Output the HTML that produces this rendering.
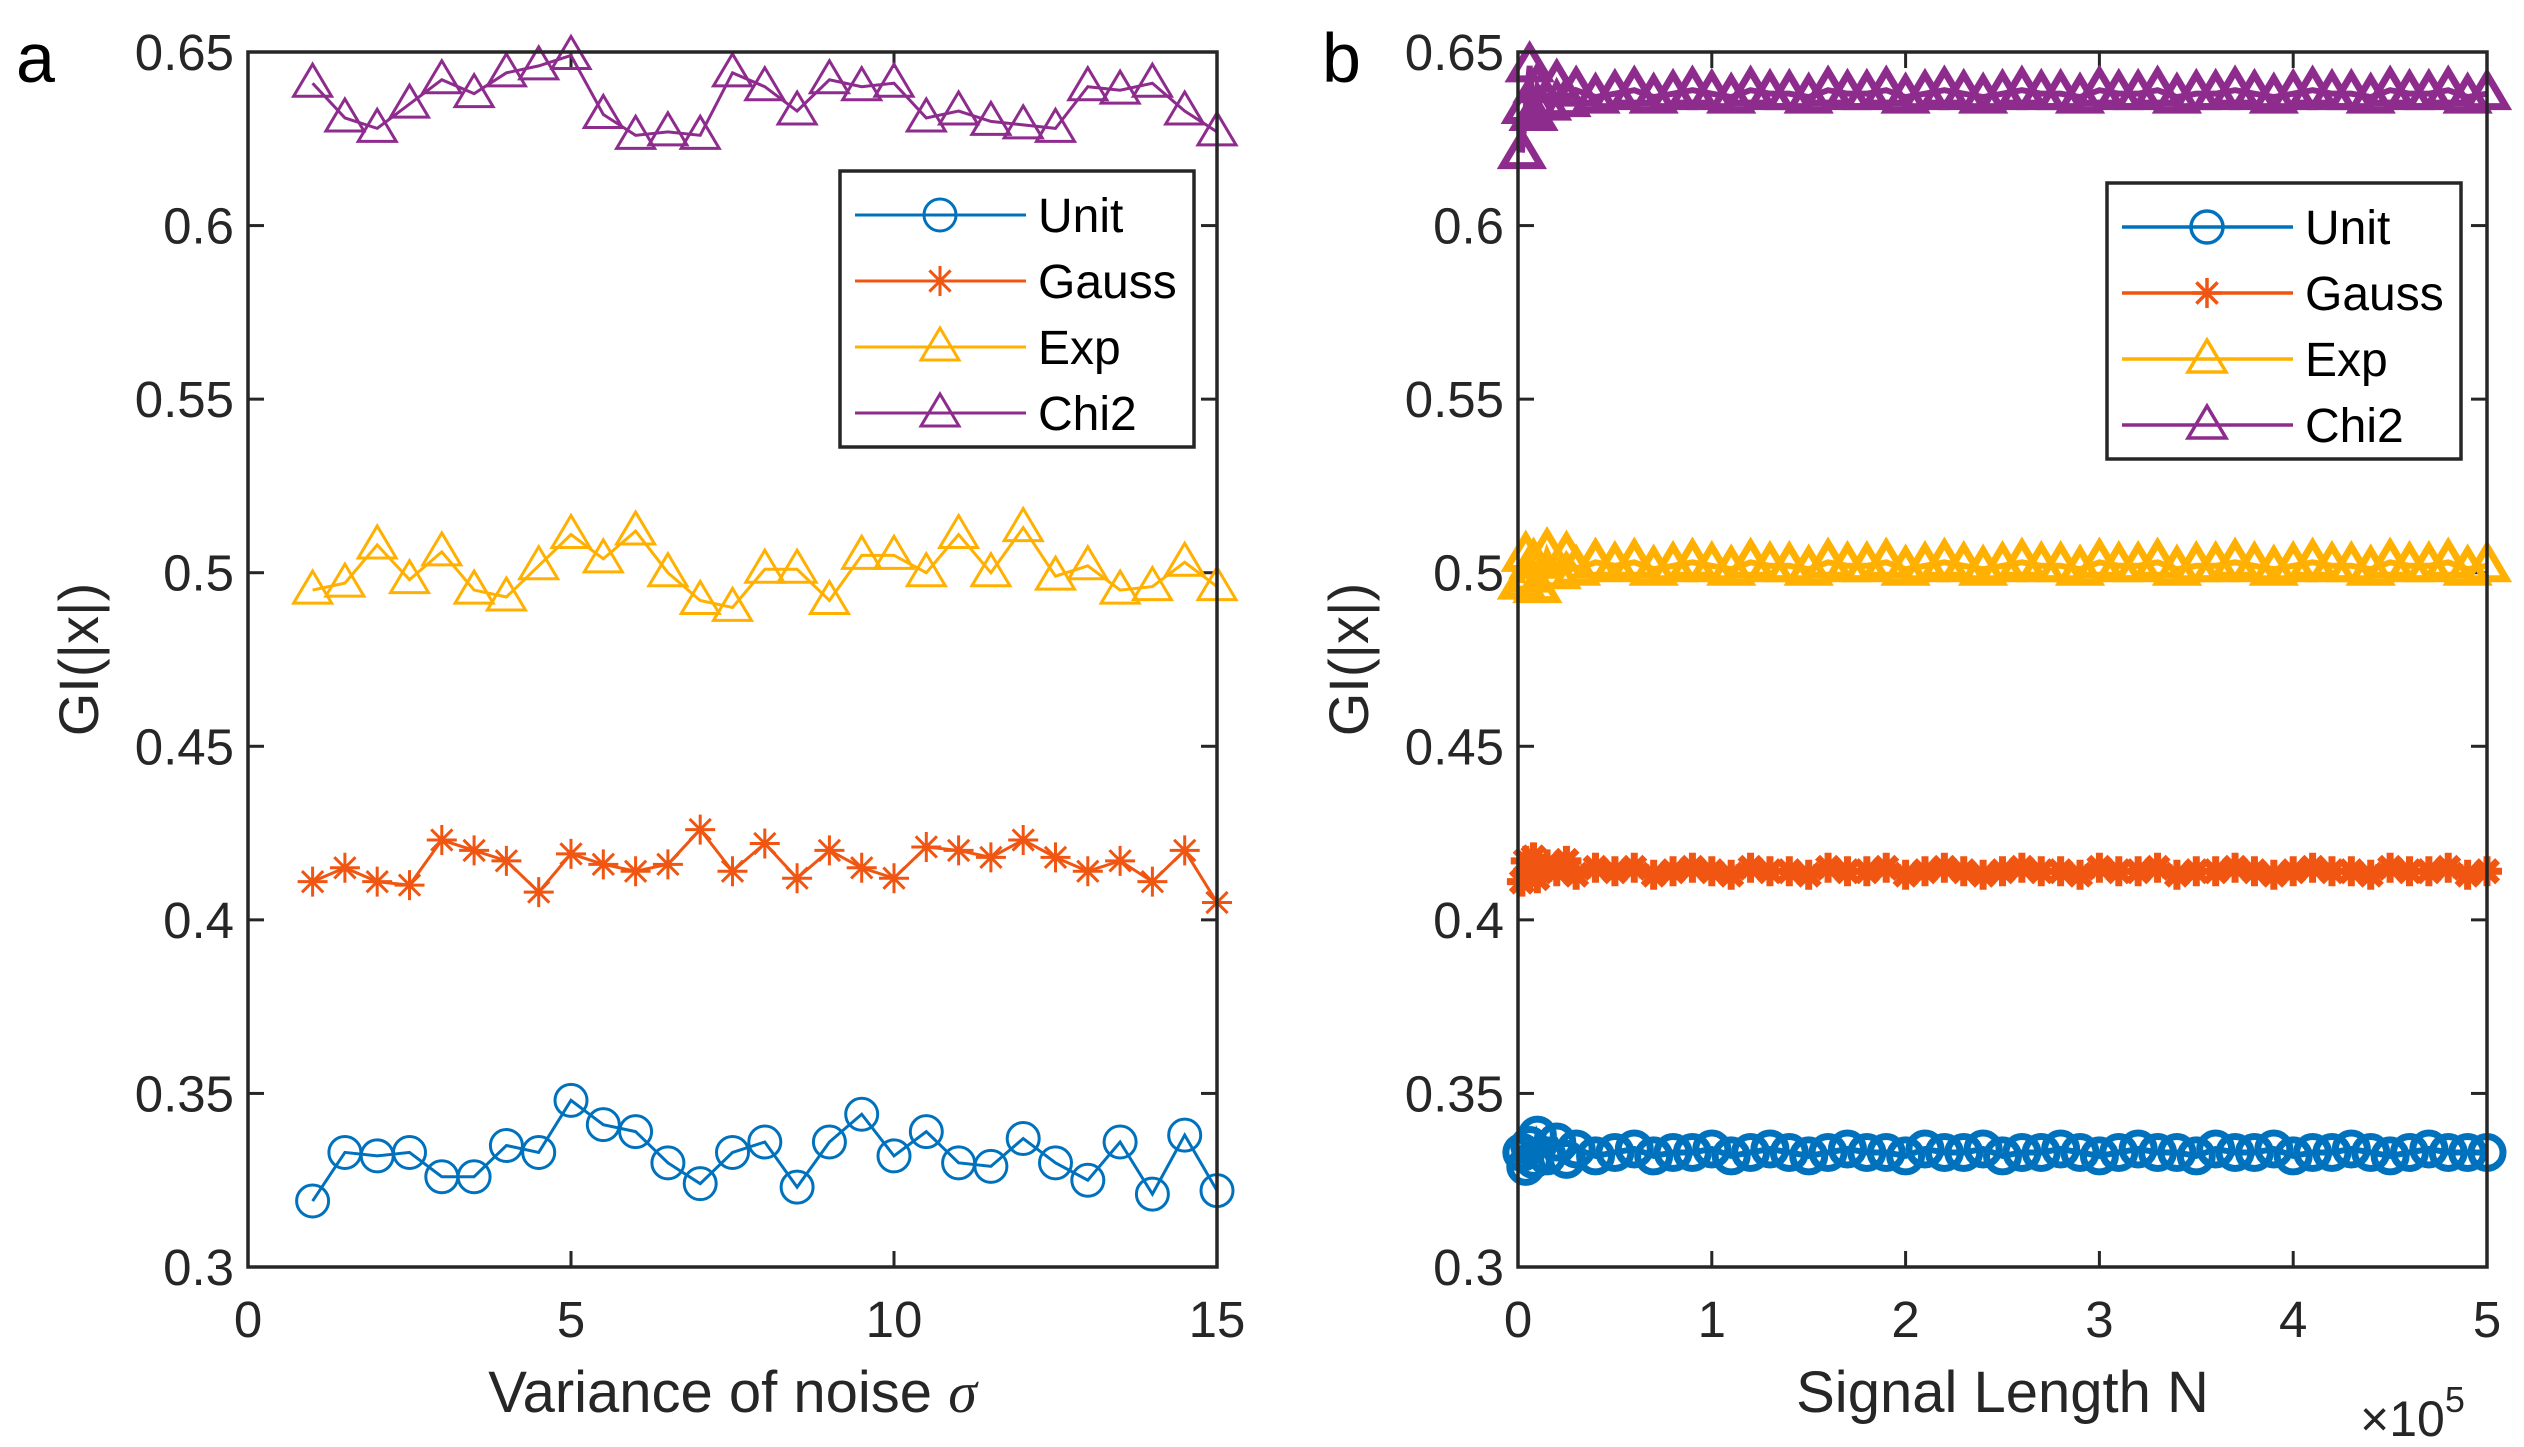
<!DOCTYPE html>
<html><head><meta charset="utf-8">
<style>
html,body{margin:0;padding:0;background:#fff;}
svg{display:block;font-family:"Liberation Sans",Arial,sans-serif;}
</style></head>
<body>
<svg id="fig" width="2524" height="1447" viewBox="0 0 2524 1447" xmlns="http://www.w3.org/2000/svg">
<rect width="2524" height="1447" fill="#fff"/>
</svg>
<script>
// ---- Panel a data ----
const sigmaX = [1,1.5,2,2.5,3,3.5,4,4.5,5,5.5,6,6.5,7,7.5,8,8.5,9,9.5,10,10.5,11,11.5,12,12.5,13,13.5,14,14.5,15];
const aUnit = [0.319,0.333,0.332,0.333,0.326,0.326,0.335,0.333,0.348,0.341,0.339,0.330,0.324,0.333,0.336,0.323,0.336,0.344,0.332,0.339,0.330,0.329,0.337,0.330,0.325,0.336,0.321,0.338,0.322];
const aGauss = [0.411,0.415,0.411,0.410,0.423,0.420,0.417,0.408,0.419,0.416,0.414,0.416,0.426,0.414,0.422,0.412,0.420,0.415,0.412,0.421,0.420,0.418,0.423,0.418,0.414,0.417,0.411,0.420,0.405];
const aExp = [0.495,0.497,0.508,0.498,0.506,0.495,0.493,0.502,0.511,0.504,0.512,0.500,0.492,0.490,0.501,0.501,0.492,0.505,0.505,0.500,0.511,0.500,0.513,0.499,0.502,0.495,0.496,0.503,0.496];
const aChi2 = [0.641,0.631,0.628,0.635,0.642,0.638,0.644,0.646,0.649,0.632,0.626,0.627,0.626,0.644,0.640,0.633,0.642,0.640,0.641,0.631,0.633,0.630,0.629,0.628,0.640,0.639,0.641,0.633,0.627];
// ---- Panel b data ----
const lenN = [2000,4000,6000,8000,10000,15000,20000,25000,30000,40000,50000,60000,70000,80000,90000,100000,110000,120000,130000,140000,150000,160000,170000,180000,190000,200000,210000,220000,230000,240000,250000,260000,270000,280000,290000,300000,310000,320000,330000,340000,350000,360000,370000,380000,390000,400000,410000,420000,430000,440000,450000,460000,470000,480000,490000,500000];
const bUnit = [0.333,0.329,0.335,0.331,0.338,0.332,0.336,0.331,0.334,0.332,0.333,0.334,0.332,0.333,0.333,0.334,0.332,0.333,0.334,0.333,0.332,0.333,0.334,0.333,0.333,0.332,0.334,0.333,0.333,0.334,0.332,0.333,0.333,0.334,0.333,0.332,0.333,0.334,0.333,0.333,0.332,0.334,0.333,0.333,0.334,0.332,0.333,0.333,0.334,0.333,0.332,0.333,0.334,0.333,0.333,0.333];
const bGauss = [0.411,0.417,0.413,0.418,0.412,0.416,0.414,0.417,0.413,0.415,0.414,0.415,0.413,0.414,0.415,0.414,0.413,0.415,0.414,0.414,0.413,0.415,0.414,0.414,0.415,0.413,0.414,0.415,0.414,0.413,0.414,0.415,0.414,0.414,0.413,0.415,0.414,0.414,0.415,0.413,0.414,0.414,0.415,0.414,0.413,0.414,0.415,0.414,0.414,0.413,0.415,0.414,0.414,0.415,0.413,0.414];
const bExp = [0.497,0.505,0.499,0.503,0.496,0.506,0.500,0.505,0.501,0.503,0.502,0.503,0.501,0.502,0.503,0.502,0.501,0.503,0.502,0.502,0.501,0.503,0.502,0.502,0.503,0.501,0.502,0.503,0.502,0.501,0.502,0.503,0.502,0.502,0.501,0.503,0.502,0.502,0.503,0.501,0.502,0.502,0.503,0.502,0.501,0.502,0.503,0.502,0.502,0.501,0.503,0.502,0.502,0.503,0.501,0.502];
const bChi2 = [0.621,0.634,0.646,0.632,0.640,0.635,0.641,0.636,0.639,0.637,0.638,0.639,0.637,0.638,0.639,0.638,0.637,0.639,0.638,0.638,0.637,0.639,0.638,0.638,0.639,0.637,0.638,0.639,0.638,0.637,0.638,0.639,0.638,0.638,0.637,0.639,0.638,0.638,0.639,0.637,0.638,0.638,0.639,0.638,0.637,0.638,0.639,0.638,0.638,0.637,0.639,0.638,0.638,0.639,0.637,0.638];
const yTicks = [0.3,0.35,0.4,0.45,0.5,0.55,0.6,0.65];
const yTickLabels = ["0.3","0.35","0.4","0.45","0.5","0.55","0.6","0.65"];
const aXTicks = [0,5,10,15];
const bXTicks = [0,100000,200000,300000,400000,500000];
const bXTickLabels = ["0","1","2","3","4","5"];
const seriesNames = ["Unit","Gauss","Exp","Chi2"];

const NS = "http://www.w3.org/2000/svg";
const svg = document.getElementById('fig');
const C = {Unit:"#0072BD",Gauss:"#F05512",Exp:"#FFB000",Chi2:"#8E2C8E"};
const markerOf = {Unit:"circle",Gauss:"star",Exp:"tri",Chi2:"tri"};
function mk(tag, attrs, parent){const e=document.createElementNS(NS,tag);for(const k in attrs)e.setAttribute(k,attrs[k]);(parent||svg).appendChild(e);return e;}

function marker(g, type, x, y, col, sw){
  let e;
  if(type==="circle"){e=mk('circle',{cx:x,cy:y,r:16,fill:'none',stroke:col,'stroke-width':sw},g);}
  else if(type==="tri"){e=mk('path',{d:`M${x} ${y-19}L${x+19} ${y+13}L${x-19} ${y+13}Z`,fill:'none',stroke:col,'stroke-width':sw},g);}
  else {const r=15;let d='';for(let i=0;i<4;i++){const a=i*Math.PI/4;d+=`M${x-r*Math.cos(a)} ${y-r*Math.sin(a)}L${x+r*Math.cos(a)} ${y+r*Math.sin(a)}`;}e=mk('path',{d:d,fill:'none',stroke:col,'stroke-width':sw},g);}
  
  
}

function panel(opt){
  const L=opt.left,R=opt.right,T=52,B=1267;
  const sx=v=>L+(v-opt.xmin)/(opt.xmax-opt.xmin)*(R-L);
  const sy=v=>B-(v-0.3)/(0.35)*(B-T);
  const g=mk('g',{});
  
  
  yTicks.forEach((t,i)=>{
    const y=sy(t);
    mk('line',{x1:L,y1:y,x2:L+16,y2:y,stroke:'#262626','stroke-width':3},g);
    mk('line',{x1:R,y1:y,x2:R-16,y2:y,stroke:'#262626','stroke-width':3},g);
    const tx=mk('text',{x:L-14,y:y+18,'text-anchor':'end','font-size':51,fill:'#262626'},g);
    tx.textContent=yTickLabels[i];
    
    
  });
  opt.xticks.forEach((t,i)=>{
    const x=sx(t);
    mk('line',{x1:x,y1:B,x2:x,y2:B-16,stroke:'#262626','stroke-width':3},g);
    mk('line',{x1:x,y1:T,x2:x,y2:T+16,stroke:'#262626','stroke-width':3},g);
    const tx=mk('text',{x:x,y:B+70,'text-anchor':'middle','font-size':51,fill:'#262626'},g);
    tx.textContent=opt.xlabels[i];
    
    
  });
  const sets=opt.series;
  seriesNames.forEach((n,si)=>{
    const ys=sets[si];
    const sg=mk('g',{},g);
    
    
    const pts=opt.xs.map((x,i)=>sx(x)+','+sy(ys[i])).join(' ');
    const pl=mk('polyline',{points:pts,fill:'none',stroke:C[n],'stroke-width':opt.lw},sg);
    
    
    opt.xs.forEach((x,i)=>marker(sg,markerOf[n],sx(x),sy(ys[i]),C[n],opt.mw));
  });
  const fr=mk('rect',{x:L,y:T,width:R-L,height:B-T,fill:'none',stroke:'#262626','stroke-width':3.5},g);
  
  
  const lg=mk('g',{},g);
  
  
  const Lx=opt.leg.x, Ly=opt.leg.y;
  mk('rect',{x:Lx,y:Ly,width:354,height:276,fill:'#fff',stroke:'#262626','stroke-width':3.5},lg);
  seriesNames.forEach((n,i)=>{
    const y=Ly+44+i*66;
    const e=mk('g',{},lg);
    
    
    mk('line',{x1:Lx+15,y1:y,x2:Lx+186,y2:y,stroke:C[n],'stroke-width':opt.llw},e);
    marker(e,markerOf[n],Lx+100,y,C[n],opt.llw);
    const t=mk('text',{x:Lx+198,y:y+17,'font-size':48,fill:'#000'},e);
    t.textContent=n;
  });
  const xl=mk('text',{x:(L+R)/2,y:1412,'text-anchor':'middle','font-size':58,fill:'#262626'},g);
  xl.innerHTML=opt.xtitle;
  
  
  const yl=mk('text',{x:0,y:0,'text-anchor':'middle','font-size':56,fill:'#262626',transform:`translate(${L-150},${(T+B)/2}) rotate(-90)`},g);
  yl.textContent='GI(|x|)';
  
  
  const pl=mk('text',{x:opt.letterX,y:82,'font-size':70,fill:'#000'},g);
  pl.textContent=opt.letter;
  
  
  return g;
}

panel({name:'panel-a',left:248,right:1217,xmin:0,xmax:15,xticks:aXTicks,xlabels:aXTicks.map(String),xs:sigmaX,
  series:[aUnit,aGauss,aExp,aChi2],lw:3,mw:3,llw:3,leg:{x:840,y:171},
  xtitle:'Variance of noise <tspan font-family="Liberation Serif" font-style="italic">σ</tspan>',letter:'a',letterX:16});
panel({name:'panel-b',left:1518,right:2487,xmin:0,xmax:500000,xticks:bXTicks,xlabels:bXTickLabels,xs:lenN,
  series:[bUnit,bGauss,bExp,bChi2],lw:6,mw:7,llw:3.5,leg:{x:2107,y:183},
  xtitle:'Signal Length N',letter:'b',letterX:1322});
const ex=mk('text',{x:2360,y:1436,'font-size':50,fill:'#262626'});
ex.innerHTML='×10<tspan dy="-24" font-size="36">5</tspan>';


</script>
</body></html>
